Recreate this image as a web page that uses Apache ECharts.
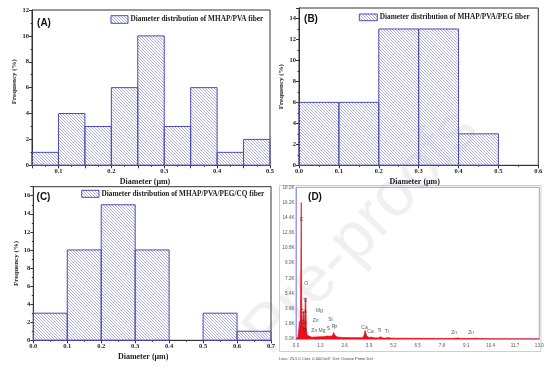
<!DOCTYPE html>
<html><head><meta charset="utf-8">
<script src="https://cdn.jsdelivr.net/npm/echarts@6/dist/echarts.min.js"></script>
<style>html,body{margin:0;padding:0;background:#fff}#c{width:553px;height:367px}</style>
</head><body><div id="c"></div>
<script>
// ---------- data ----------
const binStartA = [0.05, 0.10, 0.15, 0.20, 0.25, 0.30, 0.35, 0.40, 0.45];
const binEndA   = [0.10, 0.15, 0.20, 0.25, 0.30, 0.35, 0.40, 0.45, 0.50];
const freqA     = [1, 4, 3, 6, 10, 3, 6, 1, 2];

const binStartB = [0.0, 0.1, 0.2, 0.3, 0.4];
const binEndB   = [0.1, 0.2, 0.3, 0.4, 0.5];
const freqB     = [6, 6, 13, 13, 3];

const binStartC = [0.0, 0.1, 0.2, 0.3, 0.4, 0.5, 0.6];
const binEndC   = [0.1, 0.2, 0.3, 0.4, 0.5, 0.6, 0.7];
const freqC     = [3, 10, 15, 10, 0, 3, 1];

const legendA = 'Diameter distribution of MHAP/PVA fiber';
const legendB = 'Diameter distribution of MHAP/PVA/PEG fiber';
const legendC = 'Diameter distribution of MHAP/PVA/PEG/CQ fiber';
const xNameHist = 'Diameter (\u03bcm)';
const yNameHist = 'Frequency (%)';

// EDS spectrum (keV, counts)
const edsEnergy = [0.00, 0.05, 0.10, 0.15, 0.18, 0.21, 0.24, 0.26, 0.28, 0.30, 0.33, 0.37, 0.40, 0.43, 0.46, 0.49, 0.52, 0.55, 0.60, 0.70, 0.85, 1.00, 1.25, 1.50, 1.65, 1.74, 1.82, 1.95, 2.01, 2.08, 2.20, 2.50, 3.00, 3.50, 3.62, 3.69, 3.78, 3.90, 4.01, 4.15, 4.40, 4.51, 4.62, 4.80, 4.93, 5.10, 5.60, 6.50, 7.50, 8.40, 8.63, 8.85, 9.40, 9.57, 9.75, 10.5, 13.0];
const edsCounts = [0, 60, 250, 1200, 2100, 900, 3600, 9000, 16200, 5200, 1400, 2400, 3300, 900, 2000, 4300, 4900, 1300, 450, 250, 200, 230, 260, 280, 350, 520, 320, 380, 780, 420, 230, 180, 160, 150, 300, 1000, 350, 180, 220, 140, 130, 260, 130, 110, 170, 100, 90, 80, 70, 60, 110, 60, 50, 90, 50, 40, 30];
const edsXTicks = ['0.0','1.3','2.6','3.9','5.2','6.5','7.8','9.1','10.4','11.7','13.0'];
const edsYTicks = ['0.0K','1.8K','3.6K','5.4K','7.2K','9.0K','10.8K','12.6K','14.4K','16.2K','18.0K'];
const peakNames  = ['C', 'O', 'Ti', 'Ca', 'Ca', 'Ti', 'Mg', 'Zn', 'Zn Mg', 'Si', 'S', 'P', 'P', 'Ca', 'Ca', 'Ti', 'Ti', 'Zn', 'Zn'];
const peakEnergy = [0.30, 0.55, 0.48, 0.41, 0.41, 0.48, 1.25, 1.05, 1.20, 1.84, 1.73, 2.00, 2.12, 3.66, 3.98, 4.46, 4.85, 8.45, 9.36];
const peakLabelK = [14.2, 6.6, 4.6, 3.2, 2.0, 1.0, 3.4, 2.2, 1.0, 2.3, 1.27, 1.5, 1.3, 1.4, 0.87, 0.95, 0.87, 0.75, 0.75];
const edsFooter = 'Lsec: 25.5 0 Cnts  0.000 keV  Det: Octane Prime Det';

// ---------- styling ----------
const SERIF = '"Liberation Serif", "Times New Roman", serif';
const SANS = '"Liberation Sans", Arial, sans-serif';
const hatchCanvas = document.createElement('canvas');
hatchCanvas.width = 3; hatchCanvas.height = 3;
(function(){
  const c = hatchCanvas.getContext('2d');
  c.strokeStyle = '#9a9ad8'; c.lineWidth = 0.8;
  c.beginPath();
  c.moveTo(-1, -1); c.lineTo(4, 4);
  c.moveTo(2, -1); c.lineTo(4, 1);
  c.moveTo(-1, 2); c.lineTo(1, 4);
  c.stroke();
})();
const hatch = {image: hatchCanvas, repeat: 'repeat'};
const BAR_STROKE = '#4a4ab6';

const chart = echarts.init(document.getElementById('c'), null, {renderer: 'canvas'});

const grids = [
  {left: 32, top: 10, width: 238, height: 155.3},
  {left: 299, top: 8, width: 239.3, height: 157.3},
  {left: 33.3, top: 186.7, width: 237.7, height: 153.6},
  {left: 296, top: 187.3, width: 243.3, height: 151.7}
];
grids.forEach((g, i) => {
  g.show = true; g.containLabel = false;
  g.borderColor = i === 3 ? '#9a9af2' : '#333';
  g.borderWidth = 1;
  g.backgroundColor = 'transparent';
});

function histX(idx, min, max, interval, fmt, nameGapPad) {
  return {
    type: 'value', gridIndex: idx, min: min, max: max, interval: interval,
    name: xNameHist, nameLocation: 'middle', nameGap: 13,
    nameTextStyle: {fontFamily: SERIF, fontWeight: 'bold', fontSize: 8, color: '#222', padding: nameGapPad},
    axisLine: {show: true, onZero: false, lineStyle: {color: '#333', width: 1}},
    axisTick: {show: true, inside: false, length: 3, lineStyle: {color: '#333'}},
    minorTick: {show: fmt !== null, splitNumber: 2, length: 1.5, lineStyle: {color: '#333'}},
    axisLabel: {fontFamily: SERIF, fontWeight: 'bold', fontSize: 6.5, color: '#222', margin: 3,
      formatter: fmt || (v => v.toFixed(1))},
    splitLine: {show: false}
  };
}
function histY(idx, max, showMax, namePad) {
  return {
    type: 'value', gridIndex: idx, min: 0, max: max, interval: 2,
    name: yNameHist, nameLocation: 'middle', nameGap: 14,
    nameTextStyle: {fontFamily: SERIF, fontWeight: 'bold', fontSize: 7, color: '#222', padding: namePad},
    axisLine: {show: true, lineStyle: {color: '#333', width: 1}},
    axisTick: {show: true, inside: false, length: 3, lineStyle: {color: '#333'}},
    minorTick: {show: true, splitNumber: 2, length: 1.5, lineStyle: {color: '#333'}},
    axisLabel: {fontFamily: SERIF, fontWeight: 'bold', fontSize: 6.5, color: '#222', margin: 3, showMaxLabel: showMax},
    splitLine: {show: false}
  };
}

const fmtA = v => {
  const k = Math.round(v * 100);
  return (k % 10 === 0) ? (k / 100).toFixed(1) : '';
};

function histSeries(idx, starts, ends, freqs) {
  return {
    type: 'custom', xAxisIndex: idx, yAxisIndex: idx, z: 3,
    data: starts.map((s, i) => [s, ends[i], freqs[i]]),
    encode: {x: [0, 1], y: 2},
    renderItem: (params, api) => {
      const x0 = api.value(0), x1 = api.value(1), v = api.value(2);
      if (!v) return {type: 'group', children: []};
      const a = api.coord([x0, v]);
      const b = api.coord([x1, 0]);
      return {
        type: 'rect',
        shape: {x: a[0], y: a[1], width: b[0] - a[0], height: b[1] - a[1]},
        style: {fill: hatch, stroke: BAR_STROKE, lineWidth: 1}
      };
    }
  };
}

function legendGraphic(rx, ry, rw, rh, text) {
  return [
    {type: 'rect', shape: {x: rx, y: ry, width: rw, height: rh}, style: {fill: hatch, stroke: BAR_STROKE, lineWidth: 1}, z: 10},
    {type: 'text', x: rx + rw + 2.5, y: ry + rh / 2, z: 10,
      style: {text: text, font: 'bold 7.3px ' + SERIF, fill: '#222', verticalAlign: 'middle', align: 'left'}}
  ];
}
function panelLabel(x, y, t) {
  return {type: 'text', x: x, y: y, z: 10,
    style: {text: t, font: 'bold 10px ' + SANS, fill: '#111', align: 'center', verticalAlign: 'middle'}};
}

const option = {
  animation: false,
  backgroundColor: '#fff',
  grid: grids,
  xAxis: [
    histX(0, 0.05, 0.5, 0.05, fmtA, [0, 12, 0, 0]),
    histX(1, 0, 0.6, 0.1, undefined, [0, 8, 0, 0]),
    histX(2, 0, 0.7, 0.1, undefined, [0, 18, 0, 0]),
    {
      type: 'value', gridIndex: 3, min: 0, max: 13, interval: 1.3,
      axisLine: {show: true, lineStyle: {color: '#9a9af2', width: 1}},
      axisTick: {show: false},
      axisLabel: {fontFamily: SANS, fontSize: 4.6, color: '#555', margin: 4,
        formatter: (v, i) => edsXTicks[i] !== undefined ? edsXTicks[i] : v.toFixed(1)},
      splitLine: {show: false}
    }
  ],
  yAxis: [
    histY(0, 12, true, [0, 0, 0, 12]),
    histY(1, 15, false, [0, 0, 0, 0]),
    histY(2, 17, false, [12, 0, 0, 0]),
    {
      type: 'value', gridIndex: 3, min: 0, max: 18000, interval: 1800,
      axisLine: {show: true, lineStyle: {color: '#9a9af2', width: 1}},
      axisTick: {show: false},
      axisLabel: {fontFamily: SANS, fontSize: 4.6, color: '#555', margin: 1.5,
        formatter: (v, i) => edsYTicks[i] !== undefined ? edsYTicks[i] : (v / 1000).toFixed(1) + 'K'},
      splitLine: {show: false}
    }
  ],
  series: [
    histSeries(0, binStartA, binEndA, freqA),
    histSeries(1, binStartB, binEndB, freqB),
    histSeries(2, binStartC, binEndC, freqC),
    {
      type: 'line', xAxisIndex: 3, yAxisIndex: 3, z: 3,
      data: edsEnergy.map((e, i) => [e, edsCounts[i]]),
      showSymbol: false, symbol: 'none',
      lineStyle: {color: '#e8101a', width: 0.7},
      areaStyle: {color: '#e8101a', opacity: 1}
    },
    {
      type: 'scatter', xAxisIndex: 3, yAxisIndex: 3, z: 4,
      symbolSize: 0, silent: true,
      data: peakNames.map((n, i) => ({name: n, value: [peakEnergy[i], peakLabelK[i] * 1000]})),
      label: {show: true, position: 'inside', formatter: p => p.name,
        fontFamily: SANS, fontSize: 5, color: '#333'}
    }
  ],
  graphic: [
    {type: 'text', x: 362, y: 232, rotation: 47 * Math.PI / 180, z: -5,
      style: {text: 'Pre-proofs', font: '66px ' + SANS, fill: '#f0f0f0', align: 'center', verticalAlign: 'middle'}},
    {type: 'rect', shape: {x: 279.5, y: 185.5, width: 261.5, height: 166}, style: {fill: null, stroke: '#cfcfcf', lineWidth: 1}, z: -4},
    ...legendGraphic(111, 15.7, 17, 7.6, legendA),
    ...legendGraphic(359.3, 14, 18, 6.7, legendB),
    ...legendGraphic(81.7, 190.3, 17.3, 7, legendC),
    panelLabel(44, 23, '(A)'),
    panelLabel(311, 19, '(B)'),
    panelLabel(43.5, 197, '(C)'),
    panelLabel(315, 197.5, '(D)'),
    {type: 'text', x: 279, y: 359, z: 10,
      style: {text: edsFooter, font: '4px ' + SANS, fill: '#444', align: 'left', verticalAlign: 'middle'}}
  ]
};
chart.setOption(option);
</script>
</body></html>
